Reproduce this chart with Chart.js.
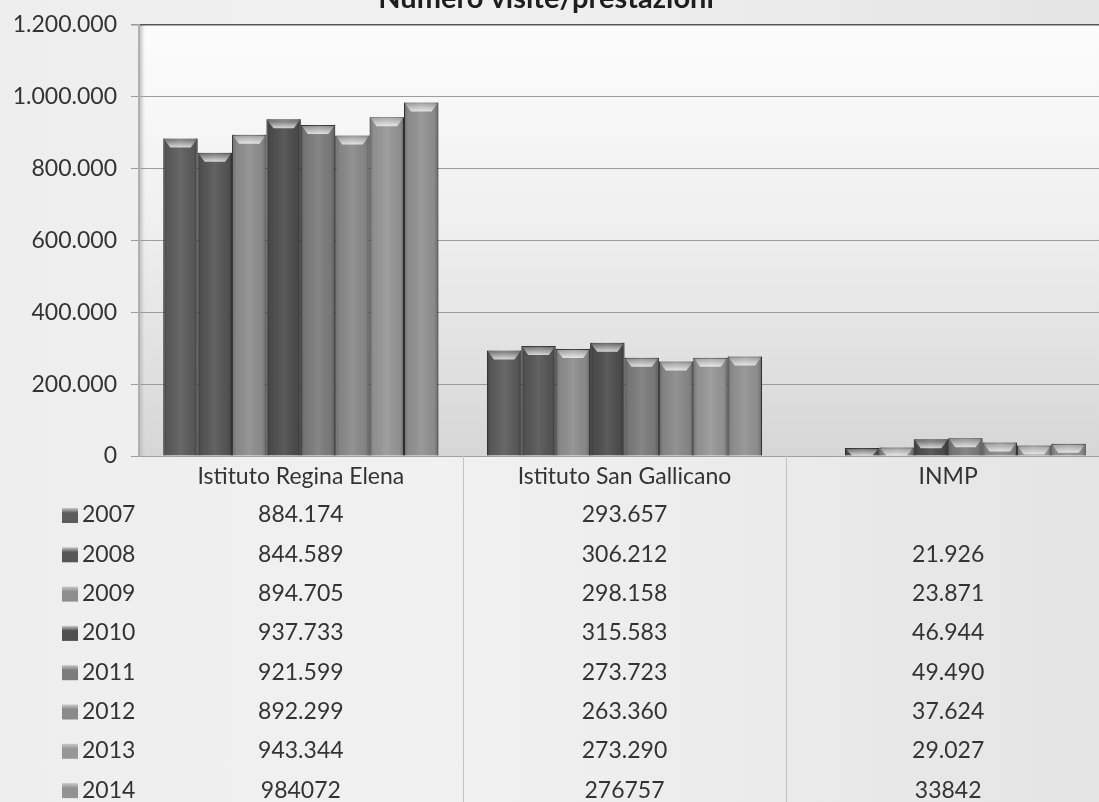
<!DOCTYPE html>
<html><head><meta charset="utf-8">
<script src="https://cdn.jsdelivr.net/npm/chart.js@4/dist/chart.umd.min.js"></script>
<style>
html,body{margin:0;padding:0;overflow:hidden;background:#e9e9e9;}
#wrap{position:relative;width:1110px;height:802px;
background:linear-gradient(90deg,#eeeeee 0%,#f1f1f1 40%,#e4e4e4 100%);}
</style></head>
<body><div id="wrap"><canvas id="c" width="1110" height="802"></canvas></div>
<script>
const categories = ['Istituto Regina Elena','Istituto San Gallicano','INMP'];
const years = ['2007','2008','2009','2010','2011','2012','2013','2014'];
const v2007 = [884174, 293657, null];
const v2008 = [844589, 306212, 21926];
const v2009 = [894705, 298158, 23871];
const v2010 = [937733, 315583, 46944];
const v2011 = [921599, 273723, 49490];
const v2012 = [892299, 263360, 37624];
const v2013 = [943344, 273290, 29027];
const v2014 = [984072, 276757, 33842];
const seriesValues = [v2007, v2008, v2009, v2010, v2011, v2012, v2013, v2014];
const yTicks = [0, 200000, 400000, 600000, 800000, 1000000, 1200000];
const noSeparatorYears = ['2014'];
const colors = ['#5c5c5c','#565656','#8e8e8e','#4e4e4e','#7c7c7c','#8a8a8a','#979797','#929292'];
const title = 'Numero visite/prestazioni';
const FONT = 'Lato, "Open Sans", sans-serif';

function fmt(v, sep){
  if (v === null || v === undefined) return '';
  const s = String(Math.round(v));
  return sep ? s.replace(/\B(?=(\d{3})+(?!\d))/g, '.') : s;
}

const decor = {
  id:'decor',
  beforeDraw(chart){
    const {ctx, chartArea:a} = chart;
    ctx.save();
    const g = ctx.createLinearGradient(0, a.top, 0, a.bottom);
    g.addColorStop(0, '#fcfcfc');
    g.addColorStop(0.45, '#f0f0f0');
    g.addColorStop(1, '#d6d6d6');
    ctx.fillStyle = g;
    ctx.fillRect(a.left, a.top, a.right - a.left, a.bottom - a.top);
    const w = ctx.createLinearGradient(a.left, 0, a.left + 6, 0);
    w.addColorStop(0, '#b8b8b8'); w.addColorStop(1, 'rgba(200,200,200,0)');
    ctx.fillStyle = w;
    ctx.fillRect(a.left, a.top, 6, a.bottom - a.top);
    ctx.restore();
  },
  afterDatasetsDraw(chart){
    const ctx = chart.ctx;
    ctx.save();
    chart.data.datasets.forEach((ds, di) => {
      chart.getDatasetMeta(di).data.forEach((bar, i) => {
        if (ds.data[i] === null) return;
        const {x, y, base, width} = bar.getProps(['x','y','base','width'], true);
        const l = x - width/2, r = x + width/2, h = base - y;
        const sg = ctx.createLinearGradient(l, 0, r, 0);
        sg.addColorStop(0, 'rgba(0,0,0,0.25)');
        sg.addColorStop(0.12, 'rgba(0,0,0,0.05)');
        sg.addColorStop(0.5, 'rgba(255,255,255,0.08)');
        sg.addColorStop(0.88, 'rgba(0,0,0,0.05)');
        sg.addColorStop(1, 'rgba(0,0,0,0.3)');
        ctx.fillStyle = sg;
        ctx.fillRect(l, y, width, h);
        const bh = Math.min(9, h);
        const ins = Math.min(7, width/4);
        const tg = ctx.createLinearGradient(0, y, 0, y + bh);
        tg.addColorStop(0, 'rgba(255,255,255,0.1)');
        tg.addColorStop(1, 'rgba(255,255,255,0.75)');
        ctx.fillStyle = tg;
        ctx.beginPath();
        ctx.moveTo(l + 1, y + 1); ctx.lineTo(r - 1, y + 1);
        ctx.lineTo(r - ins, y + bh); ctx.lineTo(l + ins, y + bh);
        ctx.closePath(); ctx.fill();
      });
    });
    ctx.restore();
  },
  afterDraw(chart){
    const {ctx, chartArea:a} = chart;
    const xs = chart.scales.x;
    ctx.save();
    ctx.fillStyle = '#1e1e1e';
    ctx.font = 'bold 29px ' + FONT;
    ctx.textAlign = 'center';
    ctx.textBaseline = 'alphabetic';
    ctx.fillText(title, 546, 8);
    ctx.strokeStyle = '#c4c4c4';
    ctx.lineWidth = 1;
    const step = xs.getPixelForValue(1) - xs.getPixelForValue(0);
    for (let i = 1; i < categories.length; i++){
      const bx = Math.round(xs.getPixelForValue(i) - step/2) + 0.5;
      ctx.beginPath(); ctx.moveTo(bx, a.bottom); ctx.lineTo(bx, 802); ctx.stroke();
    }
    const row0 = 515, rowH = 39.3;
    ctx.font = '23px ' + FONT;
    ctx.textBaseline = 'middle';
    years.forEach((yr, si) => {
      const ry = row0 + si * rowH;
      const sq = ctx.createLinearGradient(0, ry - 7, 0, ry + 7);
      sq.addColorStop(0, '#c8c8c8'); sq.addColorStop(0.35, colors[si]); sq.addColorStop(1, colors[si]);
      ctx.fillStyle = sq;
      ctx.fillRect(62, ry - 7, 16, 15);
      ctx.fillStyle = '#333';
      ctx.textAlign = 'left';
      ctx.fillText(yr, 82, ry);
      ctx.textAlign = 'center';
      const sep = !noSeparatorYears.includes(yr);
      seriesValues[si].forEach((v, ci) => {
        ctx.fillText(fmt(v, sep), xs.getPixelForValue(ci), ry);
      });
    });
    ctx.restore();
  }
};

new Chart(document.getElementById('c'), {
  type:'bar',
  data:{
    labels: categories,
    datasets: years.map((yr, i) => ({
      label: yr,
      data: seriesValues[i],
      backgroundColor: colors[i],
      borderColor: '#3a3a3a',
      borderWidth: 1
    }))
  },
  options:{
    responsive:false,
    animation:false,
    layout:{padding:{top:25, right:0, bottom:0, left:0}},
    categoryPercentage:0.85,
    barPercentage:1,
    plugins:{legend:{display:false}, tooltip:{enabled:false}, title:{display:false}},
    scales:{
      x:{
        grid:{display:false, drawTicks:false},
        border:{display:true, color:'#a0a0a0'},
        ticks:{color:'#333', font:{family:FONT, size:23}, padding:7, maxRotation:0},
        afterFit(s){ s.height = 346; s.paddingLeft = 0; s.paddingRight = 0; }
      },
      y:{
        min:0, max:1200000,
        afterBuildTicks(s){ s.ticks = yTicks.map(v => ({value:v})); },
        grid:{
          color:(c) => c.tick && c.tick.value === 1200000 ? '#555' : '#9c9c9c',
          lineWidth:(c) => c.tick && c.tick.value === 1200000 ? 1.5 : 1,
          tickLength:8,
          tickColor:'#999'
        },
        border:{display:true, color:'#b0b0b0', width:2},
        ticks:{color:'#333', font:{family:FONT, size:23}, padding:14,
          callback:(v) => fmt(v, true)},
        afterFit(s){ s.width = 139; s.paddingTop = 0; s.paddingBottom = 0; }
      }
    }
  },
  plugins:[decor]
});
</script></body></html>
